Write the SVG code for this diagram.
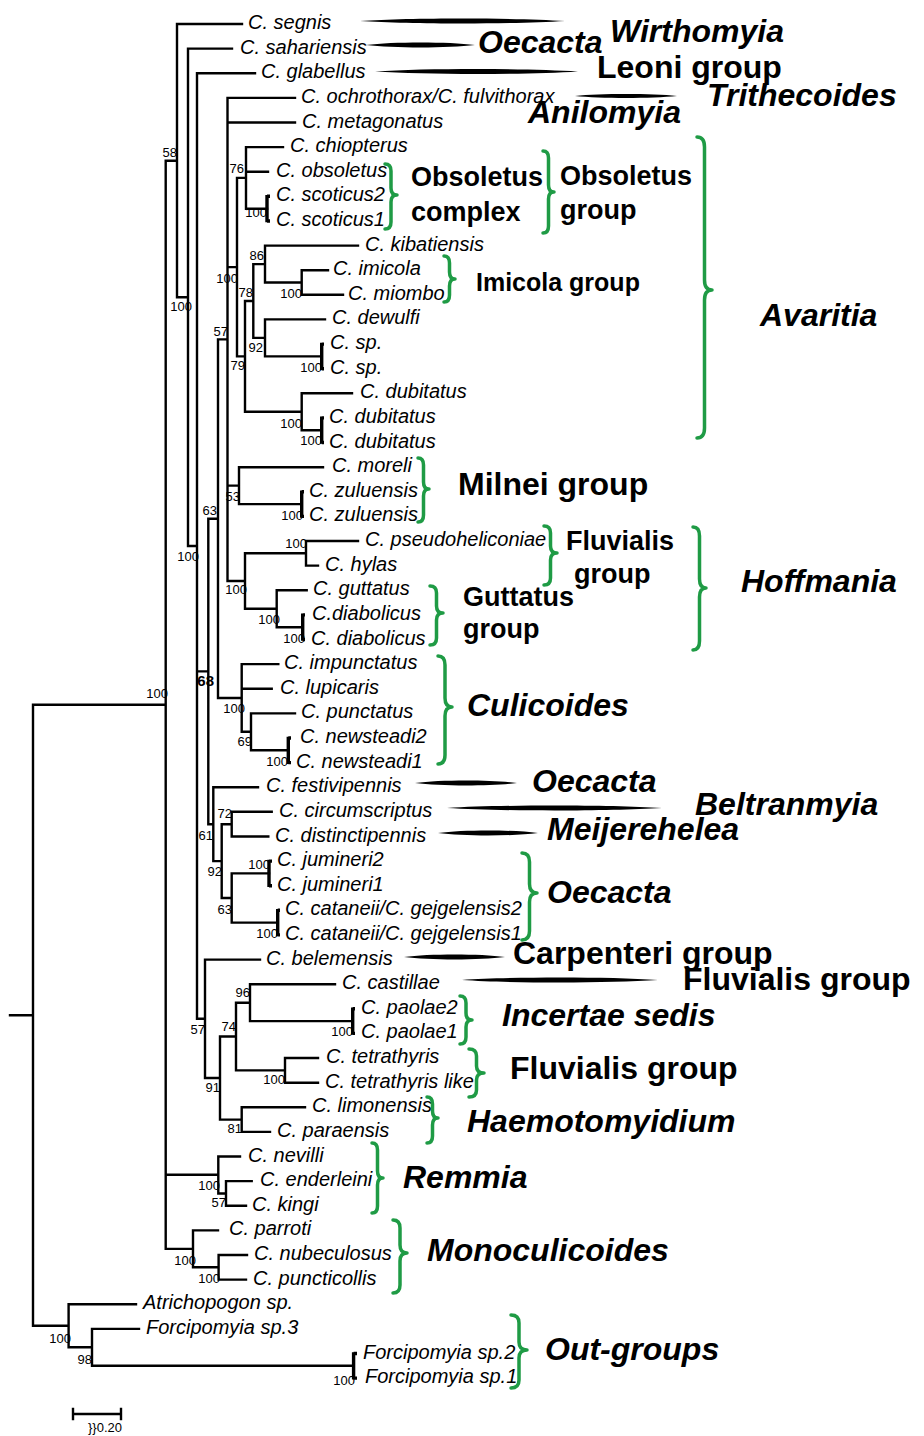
<svg xmlns="http://www.w3.org/2000/svg" width="924" height="1436" viewBox="0 0 924 1436">
<style>
.br{fill:none;stroke:#000;stroke-width:2.4;stroke-linecap:square}
.tk{fill:none;stroke:#000;stroke-width:3.4;stroke-linecap:butt}
.lf{font-family:"Liberation Sans",Arial,sans-serif;font-style:italic;font-size:20px;fill:#000}
.bs{font-family:"Liberation Sans",Arial,sans-serif;font-size:13px;text-anchor:end;fill:#000}
.gl{font-family:"Liberation Sans",Arial,sans-serif;font-weight:bold;font-size:32px;fill:#000}
.gi{font-style:italic}
.gs{font-size:27px}
.gm{font-size:25px}
.brace{fill:none;stroke:#1f9b45;stroke-width:3.5;stroke-linecap:round;stroke-linejoin:round}
.spn{fill:#000}
</style>
<rect width="924" height="1436" fill="#fff"/>
<g id="connectors">
<path class="br" d="M10 1015.3H33M33 704.8V1325.8M33 704.8H165.7M33 1325.8H68.6
M165.7 160.7V1248.9M165.7 160.7H177M165.7 1174.8H218.3M165.7 1248.9H193
M177 24V297.3M177 24H242M177 297.3H188
M188 48.6V546M188 48.6H232M188 546H197
M197 73.2V1018.8M197 73.2H255M197 671.4H208.3M197 1018.8H205
M208.3 518.7V824.2M208.3 518.7H218M208.3 824.2H213.3
M218 339.4V698M218 339.4H227.5M218 698H241.7
M227.5 97.9V581M227.5 97.9H295M227.5 122.5H295M227.5 267.1H237M227.5 485.6H239M227.5 581H245
M237 177.9V356.4M237 177.9H246M237 356.4H245
M246 147.1V208.7M246 147.1H283M246 171.7H268M246 208.7H267
M245 301V411.8M245 301H253.3M245 411.8H301.7
M253.3 264.1V337.9M253.3 264.1H265M253.3 337.9H265
M265 245.6V282.5M265 245.6H358M265 282.5H301.7
M301.7 270.2V294.8M301.7 270.2H328M301.7 294.8H343
M265 319.4V356.4M265 319.4H325M265 356.4H321.7
M301.7 393.3V430.2M301.7 393.3H352M301.7 430.2H321.7
M239 467.2V504.1M239 467.2H323M239 504.1H301.7
M245 553.3V608.7M245 553.3H306M245 608.7H276.7
M306 541V565.6M306 541H358M306 565.6H318
M276.7 590.3V627.2M276.7 590.3H306.7M276.7 627.2H302.7
M241.7 664.1V731.8M241.7 664.1H278.3M241.7 688.7H271.7M241.7 731.8H251
M251 713.4V750.3M251 713.4H295M251 750.3H288.3
M213.3 787.2V861.1M213.3 787.2H258M213.3 861.1H221.7
M221.7 824.2V898M221.7 824.2H231.7M221.7 898H231.7
M231.7 811.8V836.5M231.7 811.8H271.7M231.7 836.5H268.3
M231.7 873.4V922.6M231.7 873.4H269M231.7 922.6H277.7
M205 959.6V1078M205 959.6H260M205 1078H220
M220 1036.5V1119.6M220 1036.5H236M220 1119.6H241.7
M236 1002.7V1070.4M236 1002.7H250M236 1070.4H285
M250 984.2V1021.1M250 984.2H335M250 1021.1H352.7
M285 1058V1082.7M285 1058H318M285 1082.7H318
M241.7 1107.3V1131.9M241.7 1107.3H305M241.7 1131.9H270
M218.3 1156.5V1193.5M218.3 1156.5H240M218.3 1193.5H226
M226 1181.1V1205.8M226 1181.1H251.7M226 1205.8H246
M193 1230.4V1267.3M193 1230.4H218M193 1267.3H218.6
M218.6 1255V1279.6M218.6 1255H247M218.6 1279.6H246
M68.6 1304.2V1347.3M68.6 1304.2H136M68.6 1347.3H92
M92 1328.9V1365.8M92 1328.9H139M92 1365.8H353.6"/>
<path class="tk" d="M267 195V222.3M267 196.3H270M267 221H270
M321.7 342.8V370M321.7 344.1H324M321.7 368.7H324
M321.7 416.6V443.8M321.7 417.9H324M321.7 442.5H324
M301.7 490.5V517.7M301.7 491.8H304M301.7 516.4H304
M302.7 613.6V640.8M302.7 614.9H305M302.7 639.5H305
M288.3 736.7V763.9M288.3 738H291M288.3 762.6H291
M269 859.8V887M269 861.1H272M269 885.7H272
M277.7 909V936.2M277.7 910.3H280M277.7 934.9H280
M352.7 1007.5V1034.7M352.7 1008.8H355M352.7 1033.4H355
M353.6 1352.2V1379.4M353.6 1353.5H357M353.6 1378.1H357"/>
<path class="br" d="M73 1414H121M73 1409V1419M121 1409V1419"/>
</g>
<g id="bootstrap">
<text class="bs" x="177" y="157">58</text>
<text class="bs" x="192" y="311">100</text>
<text class="bs" x="244" y="173">76</text>
<text class="bs" x="267" y="217">100</text>
<text class="bs" x="238" y="283">100</text>
<text class="bs" x="264" y="260">86</text>
<text class="bs" x="253" y="297">78</text>
<text class="bs" x="302" y="298">100</text>
<text class="bs" x="263" y="352">92</text>
<text class="bs" x="322" y="372">100</text>
<text class="bs" x="245" y="370">79</text>
<text class="bs" x="302" y="428">100</text>
<text class="bs" x="322" y="445">100</text>
<text class="bs" x="228" y="336">57</text>
<text class="bs" x="240" y="501">53</text>
<text class="bs" x="303" y="520">100</text>
<text class="bs" x="199" y="561">100</text>
<text class="bs" x="217" y="515">63</text>
<text class="bs" x="307" y="548">100</text>
<text class="bs" x="247" y="594">100</text>
<text class="bs" x="280" y="624">100</text>
<text class="bs" x="305" y="643">100</text>
<text class="bs" x="214" y="686" style="font-size:15px;font-weight:bold">68</text>
<text class="bs" x="168" y="698">100</text>
<text class="bs" x="245" y="713">100</text>
<text class="bs" x="252" y="746">69</text>
<text class="bs" x="288" y="766">100</text>
<text class="bs" x="232" y="818">72</text>
<text class="bs" x="213" y="840">61</text>
<text class="bs" x="222" y="876">92</text>
<text class="bs" x="270" y="869">100</text>
<text class="bs" x="232" y="914">63</text>
<text class="bs" x="278" y="938">100</text>
<text class="bs" x="250" y="997">96</text>
<text class="bs" x="205" y="1034">57</text>
<text class="bs" x="236" y="1031">74</text>
<text class="bs" x="353" y="1036">100</text>
<text class="bs" x="285" y="1084">100</text>
<text class="bs" x="220" y="1092">91</text>
<text class="bs" x="242" y="1133">81</text>
<text class="bs" x="220" y="1190">100</text>
<text class="bs" x="226" y="1207">57</text>
<text class="bs" x="196" y="1265">100</text>
<text class="bs" x="220" y="1283">100</text>
<text class="bs" x="71" y="1343">100</text>
<text class="bs" x="92" y="1364">98</text>
<text class="bs" x="355" y="1385">100</text>
<text class="bs" x="88" y="1432" style="text-anchor:start;font-size:13px">}}0.20</text>
</g>
<g id="taxa">
<g id="t1"><text class="lf" x="248" y="29">C. segnis</text></g>
<g id="t2"><text class="lf" x="240" y="53.6">C. sahariensis</text></g>
<g id="t3"><text class="lf" x="261" y="78.2">C. glabellus</text></g>
<g id="t4"><text class="lf" x="301" y="102.9">C. ochrothorax/C. fulvithorax</text></g>
<g id="t5"><text class="lf" x="302" y="127.5">C. metagonatus</text></g>
<g id="t6"><text class="lf" x="290" y="152.1">C. chiopterus</text></g>
<g id="t7"><text class="lf" x="276" y="176.7">C. obsoletus</text></g>
<g id="t8"><text class="lf" x="276" y="201.3">C. scoticus2</text></g>
<g id="t9"><text class="lf" x="276" y="226">C. scoticus1</text></g>
<g id="t10"><text class="lf" x="365" y="250.6">C. kibatiensis</text></g>
<g id="t11"><text class="lf" x="333" y="275.2">C. imicola</text></g>
<g id="t12"><text class="lf" x="348" y="299.8">C. miombo</text></g>
<g id="t13"><text class="lf" x="332" y="324.4">C. dewulfi</text></g>
<g id="t14"><text class="lf" x="330" y="349.1">C. sp.</text></g>
<g id="t15"><text class="lf" x="330" y="373.7">C. sp.</text></g>
<g id="t16"><text class="lf" x="360" y="398.3">C. dubitatus</text></g>
<g id="t17"><text class="lf" x="329" y="422.9">C. dubitatus</text></g>
<g id="t18"><text class="lf" x="329" y="447.5">C. dubitatus</text></g>
<g id="t19"><text class="lf" x="332" y="472.2">C. moreli</text></g>
<g id="t20"><text class="lf" x="309" y="496.8">C. zuluensis</text></g>
<g id="t21"><text class="lf" x="309" y="521.4">C. zuluensis</text></g>
<g id="t22"><text class="lf" x="365" y="546">C. pseudoheliconiae</text></g>
<g id="t23"><text class="lf" x="325" y="570.6">C. hylas</text></g>
<g id="t24"><text class="lf" x="313" y="595.3">C. guttatus</text></g>
<g id="t25"><text class="lf" x="312" y="619.9">C.diabolicus</text></g>
<g id="t26"><text class="lf" x="311" y="644.5">C. diabolicus</text></g>
<g id="t27"><text class="lf" x="284" y="669.1">C. impunctatus</text></g>
<g id="t28"><text class="lf" x="280" y="693.7">C. lupicaris</text></g>
<g id="t29"><text class="lf" x="301" y="718.4">C. punctatus</text></g>
<g id="t30"><text class="lf" x="300" y="743">C. newsteadi2</text></g>
<g id="t31"><text class="lf" x="296" y="767.6">C. newsteadi1</text></g>
<g id="t32"><text class="lf" x="266" y="792.2">C. festivipennis</text></g>
<g id="t33"><text class="lf" x="279" y="816.8">C. circumscriptus</text></g>
<g id="t34"><text class="lf" x="275" y="841.5">C. distinctipennis</text></g>
<g id="t35"><text class="lf" x="277" y="866.1">C. jumineri2</text></g>
<g id="t36"><text class="lf" x="277" y="890.7">C. jumineri1</text></g>
<g id="t37"><text class="lf" x="285" y="915.3">C. cataneii/C. gejgelensis2</text></g>
<g id="t38"><text class="lf" x="285" y="939.9">C. cataneii/C. gejgelensis1</text></g>
<g id="t39"><text class="lf" x="266" y="964.6">C. belemensis</text></g>
<g id="t40"><text class="lf" x="342" y="989.2">C. castillae</text></g>
<g id="t41"><text class="lf" x="361" y="1013.8">C. paolae2</text></g>
<g id="t42"><text class="lf" x="361" y="1038.4">C. paolae1</text></g>
<g id="t43"><text class="lf" x="326" y="1063">C. tetrathyris</text></g>
<g id="t44"><text class="lf" x="325" y="1087.7">C. tetrathyris like</text></g>
<g id="t45"><text class="lf" x="312" y="1112.3">C. limonensis</text></g>
<g id="t46"><text class="lf" x="277" y="1136.9">C. paraensis</text></g>
<g id="t47"><text class="lf" x="248" y="1161.5">C. nevilli</text></g>
<g id="t48"><text class="lf" x="260" y="1186.1">C. enderleini</text></g>
<g id="t49"><text class="lf" x="252" y="1210.8">C. kingi</text></g>
<g id="t50"><text class="lf" x="229" y="1235.4">C. parroti</text></g>
<g id="t51"><text class="lf" x="254" y="1260">C. nubeculosus</text></g>
<g id="t52"><text class="lf" x="253" y="1284.6">C. puncticollis</text></g>
<g id="t53"><text class="lf" x="143" y="1309.2">Atrichopogon sp.</text></g>
<g id="t54"><text class="lf" x="146" y="1333.9">Forcipomyia sp.3</text></g>
<g id="t55"><text class="lf" x="363" y="1358.5">Forcipomyia sp.2</text></g>
<g id="t56"><text class="lf" x="365" y="1383.1">Forcipomyia sp.1</text></g>
</g>
<g id="spindles">
<path class="spn" d="M360 21C411 17.7 514 17.7 565 21C514 24.3 411 24.3 360 21Z"/>
<path class="spn" d="M366 45C393 41.7 448 41.7 475 45C448 48.3 393 48.3 366 45Z"/>
<path class="spn" d="M375 71.5C426 68.2 527 68.2 578 71.5C527 74.8 426 74.8 375 71.5Z"/>
<path class="spn" d="M575 96C600 93.4 652 93.4 677 96C652 98.6 600 98.6 575 96Z"/>
<path class="spn" d="M415 783C440 779.7 492 779.7 517 783C492 786.3 440 786.3 415 783Z"/>
<path class="spn" d="M447 808C501 804.7 608 804.7 662 808C608 811.3 501 811.3 447 808Z"/>
<path class="spn" d="M438 833C463 829.7 513 829.7 538 833C513 836.3 463 836.3 438 833Z"/>
<path class="spn" d="M404 957C429 953.7 480 953.7 505 957C480 960.3 429 960.3 404 957Z"/>
<path class="spn" d="M462 980C511 976.7 609 976.7 658 980C609 983.3 511 983.3 462 980Z"/>
</g>
<g id="g-wirthomyia"><text class="gl gi" x="610" y="42">Wirthomyia</text></g>
<g id="g-oecacta1"><text class="gl gi" x="478" y="53">Oecacta</text></g>
<g id="g-leoni"><text class="gl" x="597" y="78">Leoni group</text></g>
<g id="g-trithecoides"><text class="gl gi" x="707" y="106">Trithecoides</text></g>
<g id="g-anilomyia"><text class="gl gi" x="528" y="122.5">Anilomyia</text></g>
<g id="g-obscomplex"><path class="brace" d="M385 164Q391 164 391 171V188Q391 195 397 195Q391 195 391 202V222Q391 229 385 229"/><text class="gl gs" x="411" y="186">Obsoletus</text><text class="gl gs" x="411" y="221">complex</text></g>
<g id="g-obsgroup"><path class="brace" d="M543 151Q548.5 151 548.5 158V185Q548.5 192 554 192Q548.5 192 548.5 199V226Q548.5 233 543 233"/><text class="gl gs" x="560" y="185">Obsoletus</text><text class="gl gs" x="560" y="218.5">group</text></g>
<g id="g-avaritia"><path class="brace" d="M697 137Q704.5 137 704.5 147V280Q704.5 290 712 290Q704.5 290 704.5 300V428Q704.5 438 697 438"/><text class="gl gi" x="760" y="326">Avaritia</text></g>
<g id="g-imicola"><path class="brace" d="M444 256Q449.5 256 449.5 263V272Q449.5 279 455 279Q449.5 279 449.5 286V295Q449.5 302 444 302"/><text class="gl gm" x="476" y="291">Imicola group</text></g>
<g id="g-milnei"><path class="brace" d="M418 458Q423.5 458 423.5 465V482Q423.5 489 429 489Q423.5 489 423.5 496V515Q423.5 522 418 522"/><text class="gl" x="458" y="495">Milnei group</text></g>
<g id="g-fluvialis1"><path class="brace" d="M544 526Q550.5 526 550.5 533V546Q550.5 553 557 553Q550.5 553 550.5 560V578Q550.5 585 544 585"/><text class="gl gs" x="566" y="550">Fluvialis</text><text class="gl gs" x="574" y="583">group</text></g>
<g id="g-guttatus"><path class="brace" d="M430 586Q436.5 586 436.5 593V606Q436.5 613 443 613Q436.5 613 436.5 620V638Q436.5 645 430 645"/><text class="gl gs" x="463" y="606">Guttatus</text><text class="gl gs" x="463" y="638">group</text></g>
<g id="g-hoffmania"><path class="brace" d="M693 527Q699.5 527 699.5 536V579Q699.5 588 706 588Q699.5 588 699.5 597V641Q699.5 650 693 650"/><text class="gl gi" x="741" y="592">Hoffmania</text></g>
<g id="g-culicoides"><path class="brace" d="M438 656Q445 656 445 665V698Q445 707 452 707Q445 707 445 716V755Q445 764 438 764"/><text class="gl gi" x="467" y="716">Culicoides</text></g>
<g id="g-oecacta2"><text class="gl gi" x="532" y="791.5">Oecacta</text></g>
<g id="g-beltranmyia"><text class="gl gi" x="695" y="815">Beltranmyia</text></g>
<g id="g-meijerehelea"><text class="gl gi" x="547" y="839.5">Meijerehelea</text></g>
<g id="g-oecacta3"><path class="brace" d="M522 853Q529.5 853 529.5 862V884Q529.5 893 537 893Q529.5 893 529.5 902V931Q529.5 940 522 940"/><text class="gl gi" x="547" y="903">Oecacta</text></g>
<g id="g-carpenteri"><text class="gl" x="513" y="964">Carpenteri group</text></g>
<g id="g-fluvialis2"><text class="gl" x="683" y="990">Fluvialis group</text></g>
<g id="g-incertae"><path class="brace" d="M460 996Q466 996 466 1003V1013Q466 1020 472 1020Q466 1020 466 1027V1037Q466 1044 460 1044"/><text class="gl gi" x="502" y="1025.5">Incertae sedis</text></g>
<g id="g-fluvialis3"><path class="brace" d="M469 1049Q476.5 1049 476.5 1056V1066Q476.5 1073 484 1073Q476.5 1073 476.5 1080V1090Q476.5 1097 469 1097"/><text class="gl" x="510" y="1079">Fluvialis group</text></g>
<g id="g-haemotomyidium"><path class="brace" d="M427 1097Q432.5 1097 432.5 1104V1111Q432.5 1118 438 1118Q432.5 1118 432.5 1125V1136Q432.5 1143 427 1143"/><text class="gl gi" x="467" y="1131.5">Haemotomyidium</text></g>
<g id="g-remmia"><path class="brace" d="M372 1143Q377.5 1143 377.5 1150V1171Q377.5 1178 383 1178Q377.5 1178 377.5 1185V1206Q377.5 1213 372 1213"/><text class="gl gi" x="403" y="1188">Remmia</text></g>
<g id="g-monoculicoides"><path class="brace" d="M393 1220Q400 1220 400 1228V1245Q400 1253 407 1253Q400 1253 400 1261V1285Q400 1293 393 1293"/><text class="gl gi" x="427" y="1261">Monoculicoides</text></g>
<g id="g-outgroups"><path class="brace" d="M511 1315Q519 1315 519 1323V1342Q519 1350 527 1350Q519 1350 519 1358V1380Q519 1388 511 1388"/><text class="gl gi" x="545" y="1360">Out-groups</text></g>
</svg>
